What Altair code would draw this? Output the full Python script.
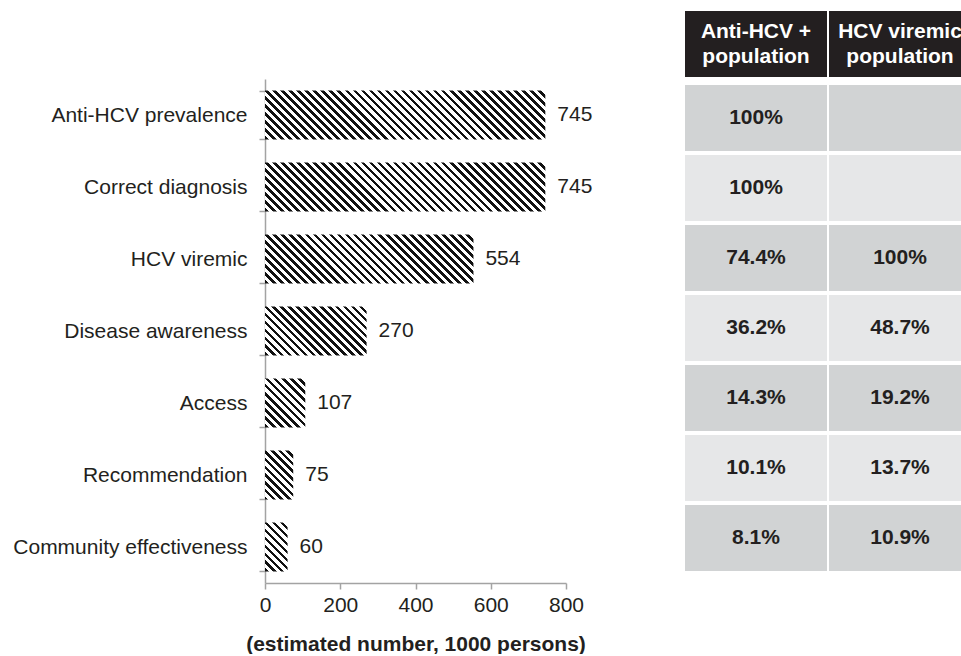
import altair as alt
import pandas as pd

# ---------------- data ----------------
categories = [
    "Anti-HCV prevalence",
    "Correct diagnosis",
    "HCV viremic",
    "Disease awareness",
    "Access",
    "Recommendation",
    "Community effectiveness",
]
values = [745, 745, 554, 270, 107, 75, 60]
anti_hcv_share = ["100%", "100%", "74.4%", "36.2%", "14.3%", "10.1%", "8.1%"]
viremic_share = ["", "", "100%", "48.7%", "19.2%", "13.7%", "10.9%"]
column_headers = ["Anti-HCV +\npopulation", "HCV viremic\npopulation"]
x_ticks = [0, 200, 400, 600, 800]
x_title = "(estimated number, 1000 persons)"

# ---------------- styling ----------------
FONT = "Liberation Sans"
TEXT = "#231f20"
AXIS = "#a3a3a3"
FS = 21
PLOT_W = 301
BAND = 72
HEADER_H = 66
Y_TOP = 68
BAR_PAD = 0.32
X_MAX = 800
PERIOD = 8.0   # horizontal stripe spacing (px)
INK = 0.45     # fraction of each stripe period that is black
ROW_STEP = 70
ROW_GAP = 4
COL_STEP = 144
COL_GAP = 2
TABLE_W = 276
HEAD_LINE = 25


def hatch(value):
    """Diagonal '\\' hatch as a striped linear gradient sized to the bar."""
    w = max(value / X_MAX * PLOT_W, 1.0)
    h = BAND * (1 - BAR_PAD)
    r = w / h
    b = (r + 1) / (r * r + 1)
    a = r * b
    n = max(1, round((w + h) / PERIOD))
    stops = []
    for k in range(n):
        s, m, e = k / n, (k + INK) / n, (k + 1) / n
        stops += [
            {"offset": s, "color": "#111111"},
            {"offset": m, "color": "#111111"},
            {"offset": m, "color": "#ffffff"},
            {"offset": e, "color": "#ffffff"},
        ]
    return {"gradient": "linear", "x1": 0, "y1": 1, "x2": a, "y2": 1 - b, "stops": stops}


bars_df = pd.DataFrame({"category": categories, "value": values})

y_enc = alt.Y(
    "category:N",
    sort=categories,
    scale=alt.Scale(
        domain=categories,
        range=[Y_TOP, Y_TOP + BAND * len(categories)],
        paddingInner=BAR_PAD,
        paddingOuter=BAR_PAD / 2,
    ),
    axis=alt.Axis(
        title=None,
        tickBand="extent",
        tickSize=6,
        tickColor=AXIS,
        tickWidth=1.5,
        domainColor=AXIS,
        domainWidth=1.5,
        labelFont=FONT,
        labelFontSize=FS,
        labelColor=TEXT,
        labelPadding=12,
        labelLimit=400,
    ),
)
x_enc = alt.X(
    "value:Q",
    scale=alt.Scale(domain=[0, X_MAX], nice=False),
    axis=alt.Axis(
        values=x_ticks,
        grid=False,
        tickSize=6,
        tickColor=AXIS,
        tickWidth=1.5,
        domainColor=AXIS,
        domainWidth=1.5,
        labelFont=FONT,
        labelFontSize=FS,
        labelColor=TEXT,
        labelPadding=5,
        labelFlush=False,
        title=x_title,
        titleFont=FONT,
        titleFontSize=FS,
        titleFontWeight="bold",
        titleColor=TEXT,
        titlePadding=18,
    ),
)

bar_layers = [
    alt.Chart(bars_df)
    .transform_filter(alt.datum.category == c)
    .mark_bar(fill=hatch(v), strokeWidth=0)
    .encode(x=x_enc, y=y_enc)
    for c, v in zip(categories, values)
]
value_labels = (
    alt.Chart(bars_df)
    .mark_text(align="left", baseline="middle", dx=12, font=FONT, fontSize=FS, color=TEXT)
    .encode(x=x_enc, y=y_enc, text="value:Q")
)
bar_chart = alt.layer(*bar_layers, value_labels).properties(
    width=PLOT_W, height=Y_TOP + BAND * len(categories)
)

# ---------------- table ----------------
rows = []
for i, c in enumerate(categories):
    shade = "dark" if i % 2 == 0 else "light"
    rows.append({"category": c, "col": column_headers[0], "share": anti_hcv_share[i], "shade": shade})
    rows.append({"category": c, "col": column_headers[1], "share": viremic_share[i], "shade": shade})
table_df = pd.DataFrame(rows)

x_tab = alt.X(
    "col:N",
    sort=column_headers,
    scale=alt.Scale(
        domain=column_headers,
        range=[0, COL_STEP * len(column_headers) - COL_GAP],
        paddingInner=COL_GAP / COL_STEP,
        paddingOuter=0,
    ),
    axis=None,
)
y_tab = alt.Y(
    "category:N",
    sort=categories,
    scale=alt.Scale(domain=categories, paddingInner=ROW_GAP / ROW_STEP, paddingOuter=0),
    axis=None,
)
cells = (
    alt.Chart(table_df)
    .mark_rect(clip=True)
    .encode(
        x=x_tab,
        y=y_tab,
        color=alt.Color(
            "shade:N",
            scale=alt.Scale(domain=["dark", "light"], range=["#d1d3d4", "#e6e7e8"]),
            legend=None,
        ),
    )
)
cell_text = (
    alt.Chart(table_df)
    .mark_text(clip=True, font=FONT, fontSize=FS, fontWeight="bold", color=TEXT)
    .encode(x=x_tab, y=y_tab, text="share:N")
)
table_rows = alt.layer(cells, cell_text).properties(
    width=TABLE_W, height=ROW_STEP * len(categories) - ROW_GAP
)

header_df = pd.DataFrame({"col": column_headers, "row": ["header"] * len(column_headers)})
y_head = alt.Y("row:N", scale=alt.Scale(paddingInner=0, paddingOuter=0), axis=None)
header_rect = (
    alt.Chart(header_df)
    .mark_rect(clip=True, color=TEXT)
    .encode(x=x_tab, y=y_head)
)
header_text = (
    alt.Chart(header_df)
    .mark_text(
        clip=True,
        font=FONT,
        fontSize=FS,
        fontWeight="bold",
        color="white",
        lineBreak="\n",
        lineHeight=HEAD_LINE,
        baseline="middle",
        dy=-HEAD_LINE / 2,
    )
    .encode(x=x_tab, y=y_head, text="col:N")
)
header = alt.layer(header_rect, header_text).properties(width=TABLE_W, height=HEADER_H)

table = alt.vconcat(header, table_rows, spacing=8, bounds="flush")

chart = (
    alt.hconcat(bar_chart, table, spacing=119, bounds="flush")
    .resolve_scale(x="independent", y="independent", color="independent")
    .properties(padding={"left": 12, "top": 0, "right": 0, "bottom": 0}, background="white")
    .configure_view(stroke=None)
)

chart.save("out.html", embed_options={"renderer": "svg", "actions": False})
